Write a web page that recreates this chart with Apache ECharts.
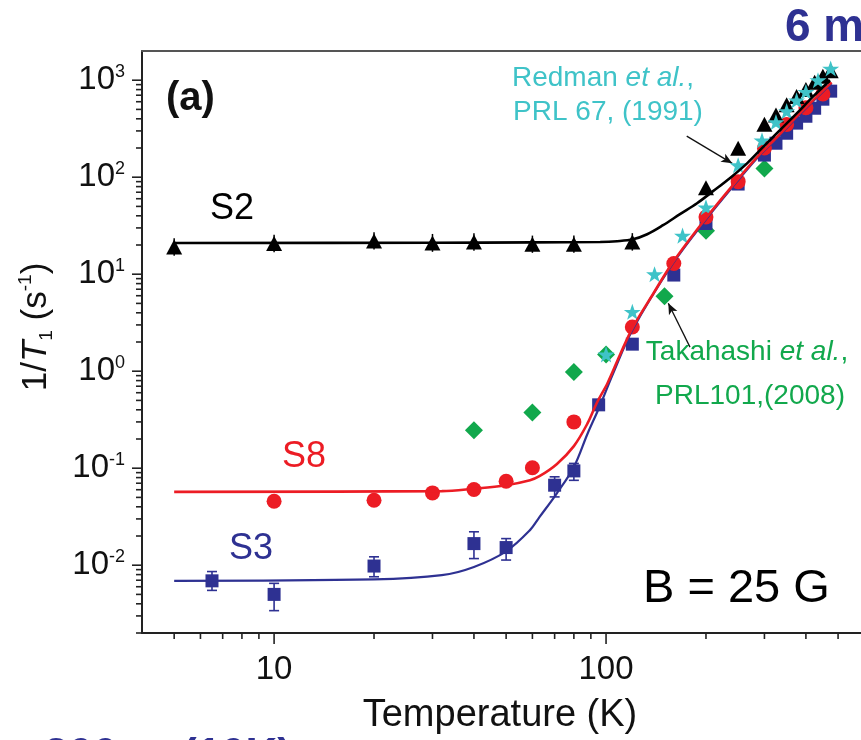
<!DOCTYPE html>
<html>
<head>
<meta charset="utf-8">
<script src="https://cdn.jsdelivr.net/npm/echarts@6/dist/echarts.min.js"></script>
<style>
  html, body { margin: 0; padding: 0; background: #ffffff; }
  #chart { width: 861px; height: 740px; }
</style>
</head>
<body>
<div id="chart"></div>
<script>
// ---- Measured relaxation rates 1/T1 (s^-1) versus temperature (K) ----
const s2Temp = [5, 10, 20, 30, 40, 60, 80, 120, 200, 250, 300, 325, 350, 375, 400, 425, 450, 475];
const s2Rate = [19.1, 20.7, 22, 21, 21.5, 20.4, 20.4, 21.5, 78, 199, 352, 437, 560, 680, 800, 950, 1100, 1250];
const s2ErrTemp = [5, 10, 20, 30, 40, 60, 80, 120];
const s2ErrLow  = [15.5, 16.8, 18, 17, 17.5, 16.6, 16.6, 17.5];
const s2ErrHigh = [23.5, 25.5, 27, 26, 26.5, 25, 25, 26.5];

const s8Temp = [10, 20, 30, 40, 50, 60, 80, 120, 160, 200, 250, 300, 350, 400, 450];
const s8Rate = [0.0457, 0.0468, 0.0556, 0.0603, 0.0734, 0.101, 0.30, 2.86, 12.9, 38.9, 90, 200, 350, 520, 720];

const s3Temp = [6.5, 10, 20, 40, 50, 70, 80, 95, 120, 160, 200, 250, 300, 325, 350, 375, 400, 425, 450, 475];
const s3Rate = [0.0069, 0.0050, 0.0098, 0.0167, 0.0152, 0.0668, 0.0938, 0.45, 1.90, 9.8, 33.3, 85, 169, 224, 284, 361, 425, 514, 637, 771];
const s3ErrTemp = [6.5, 10, 20, 40, 50, 70, 80];
const s3ErrLow  = [0.0055, 0.0034, 0.0076, 0.0117, 0.0113, 0.0506, 0.075];
const s3ErrHigh = [0.0086, 0.0065, 0.0122, 0.0221, 0.0188, 0.0815, 0.112];

// Takahashi et al., PRL 101 (2008)
const takahashiTemp = [40, 60, 80, 100, 150, 200, 300];
const takahashiRate = [0.246, 0.375, 0.98, 1.49, 5.93, 28, 123];

// Redman et al., PRL 67 (1991)
const redmanTemp = [100, 120, 140, 170, 200, 250, 295, 325, 350, 375, 400, 435, 475];
const redmanRate = [1.49, 4.1, 10, 25, 49, 133, 240, 370, 480, 620, 760, 1000, 1320];

// Fitted curves
const s2FitTemp = [5, 30, 60, 96, 108, 120.5, 133, 148.5, 167, 188, 210, 236, 266, 297, 334, 376, 420, 473];
const s2FitRate = [21, 21.1, 21.3, 21.5, 21.9, 22.9, 25.8, 32.0, 41.6, 53.9, 71.8, 97.7, 139, 204, 305, 457, 676, 1000];

const s8FitTemp = [5, 32, 40, 50, 59, 63, 71, 80, 88, 94, 101, 110, 120, 139, 159, 201, 248, 285, 327, 384, 478];
const s8FitRate = [0.057, 0.058, 0.0615, 0.0668, 0.0752, 0.0827, 0.110, 0.169, 0.291, 0.479, 0.752, 1.46, 2.77, 6.37, 13.3, 38.7, 93, 161, 258, 457, 950];

const s3FitTemp = [5, 20, 32, 40, 50, 59, 63, 71, 80, 88, 95.5, 105, 120, 159, 201, 248, 285, 327, 384, 478];
const s3FitRate = [0.0069, 0.00713, 0.00789, 0.0096, 0.0139, 0.0230, 0.0313, 0.0548, 0.103, 0.228, 0.428, 0.946, 2.65, 12.9, 37.5, 90, 157, 252, 445, 930];

// Axis ranges and labelled decades (the temperature axis runs on past the right edge)
const tempMin = 4, tempMax = 1000;
const rateMin = 0.002, rateMax = 2000;
const xTickLabels = [10, 100];
const yTickExponents = [-2, -1, 0, 1, 2, 3];

// ---- helpers ----
const zip = (a, b) => a.map((v, i) => [v, b[i]]);
const zip3 = (a, b, c) => a.map((v, i) => [v, b[i], c[i]]);

const FONT = "'Liberation Sans', Arial, Helvetica, sans-serif";
const RED = '#ec1c24';
const BLUE = '#2e3192';
const GREEN = '#11a84c';
const CYAN = '#3fc3c8';
const STAR = 'path://M50,0 L61.8,35.1 L98.1,35.1 L68.8,56.7 L79.4,91 L50,70 L20.6,91 L31.2,56.7 L1.9,35.1 L38.2,35.1 Z';

// tick marks on the log axes (majors at decades, minors at 2..9)
const xTicks = [];
for (let d = 0; d <= 2; d++) {
  for (let m = 1; m <= 9; m++) {
    const v = m * Math.pow(10, d);
    if (v > tempMin && v < tempMax) xTicks.push([v, rateMin, m === 1 ? 11 : 6]);
  }
}
const yTicks = [];
for (let d = -3; d <= 3; d++) {
  for (let m = 1; m <= 9; m++) {
    const v = m * Math.pow(10, d);
    if (v >= rateMin * 0.999 && v < rateMax) yTicks.push([tempMin, v, m === 1 ? 10 : 6]);
  }
}

function renderXTick(params, api) {
  const p = api.coord([api.value(0), rateMin]);
  const len = api.value(2);
  return { type: 'line', shape: { x1: p[0], y1: p[1], x2: p[0], y2: p[1] + len },
           style: { stroke: '#222', lineWidth: 1.6 } };
}
function renderYTick(params, api) {
  const p = api.coord([tempMin, api.value(1)]);
  const len = api.value(2);
  return { type: 'line', shape: { x1: p[0] - len, y1: p[1], x2: p[0], y2: p[1] },
           style: { stroke: '#222', lineWidth: 1.6 } };
}
function makeErrRenderer(color, cap, width) {
  return function (params, api) {
    const t = api.value(0);
    const a = api.coord([t, api.value(1)]);
    const b = api.coord([t, api.value(2)]);
    const children = [
      { type: 'line', shape: { x1: a[0], y1: a[1], x2: b[0], y2: b[1] }, style: { stroke: color, lineWidth: width } }
    ];
    if (cap > 0) {
      children.push({ type: 'line', shape: { x1: a[0] - cap, y1: a[1], x2: a[0] + cap, y2: a[1] }, style: { stroke: color, lineWidth: width } });
      children.push({ type: 'line', shape: { x1: b[0] - cap, y1: b[1], x2: b[0] + cap, y2: b[1] }, style: { stroke: color, lineWidth: width } });
    }
    return { type: 'group', children };
  };
}

const isDecade = v => Math.abs(Math.log10(v) - Math.round(Math.log10(v))) < 1e-6;

const chart = echarts.init(document.getElementById('chart'), null, { renderer: 'canvas' });

const option = {
  animation: false,
  backgroundColor: '#ffffff',
  textStyle: { fontFamily: FONT },
  grid: { left: 142, top: 51, width: 796, bottom: 107, show: false, containLabel: false, outerBoundsMode: 'none' },
  xAxis: [{
    type: 'log', logBase: 10, min: tempMin, max: tempMax,
    axisLine: { show: true, lineStyle: { color: '#222', width: 2 } },
    axisTick: { show: false },
    splitLine: { show: false },
    axisLabel: {
      margin: 20, fontSize: 33, color: '#111', fontFamily: FONT,
      formatter: v => (xTickLabels.some(t => Math.abs(t - v) < 1e-6 * t) ? String(Math.round(v)) : '')
    }
  }, {
    // upper frame line
    type: 'log', logBase: 10, min: tempMin, max: tempMax, position: 'top',
    axisLine: { show: true, lineStyle: { color: '#555', width: 2 } },
    axisTick: { show: false }, axisLabel: { show: false }, splitLine: { show: false }
  }],
  yAxis: {
    type: 'log', logBase: 10, min: rateMin, max: rateMax, splitNumber: 6,
    axisLine: { show: true, lineStyle: { color: '#222', width: 2 } },
    axisTick: { show: false },
    splitLine: { show: false },
    axisLabel: {
      margin: 17, color: '#111',
      formatter: v => {
        if (!isDecade(v)) return '';
        const e = Math.round(Math.log10(v));
        if (yTickExponents.indexOf(e) < 0) return '';
        return '{b|10}{s|' + e + '}';
      },
      rich: {
        b: { fontSize: 33, lineHeight: 34, fontFamily: FONT, color: '#111' },
        s: { fontSize: 18, lineHeight: 18, verticalAlign: 'top', fontFamily: FONT, color: '#111' }
      }
    }
  },
  series: [
    { name: 'xticks', type: 'custom', renderItem: renderXTick, data: xTicks, encode: { x: 0, y: 1 }, z: 10, silent: true, clip: false },
    { name: 'yticks', type: 'custom', renderItem: renderYTick, data: yTicks, encode: { x: 0, y: 1 }, z: 10, silent: true, clip: false },

    { name: 'Takahashi', type: 'scatter', data: zip(takahashiTemp, takahashiRate), symbol: 'diamond', symbolSize: 18,
      itemStyle: { color: GREEN, opacity: 1 }, z: 2 },

    { name: 'S3 err', type: 'custom', renderItem: makeErrRenderer(BLUE, 5, 1.6), data: zip3(s3ErrTemp, s3ErrLow, s3ErrHigh),
      encode: { x: 0, y: [1, 2] }, z: 3, silent: true },
    { name: 'S3', type: 'scatter', data: zip(s3Temp, s3Rate), symbol: 'rect', symbolSize: 13,
      itemStyle: { color: BLUE, opacity: 1 }, z: 3 },

    { name: 'S8', type: 'scatter', data: zip(s8Temp, s8Rate), symbol: 'circle', symbolSize: 15,
      itemStyle: { color: RED, opacity: 1 }, z: 4 },

    { name: 'S2 err', type: 'custom', renderItem: makeErrRenderer('#000', 0, 1.5), data: zip3(s2ErrTemp, s2ErrLow, s2ErrHigh),
      encode: { x: 0, y: [1, 2] }, z: 5, silent: true },
    { name: 'S2', type: 'scatter', data: zip(s2Temp, s2Rate), symbol: 'triangle', symbolSize: [16, 15],
      itemStyle: { color: '#000', opacity: 1 }, z: 5 },

    { name: 'Redman', type: 'scatter', data: zip(redmanTemp, redmanRate), symbol: STAR, symbolKeepAspect: true, symbolSize: 17,
      itemStyle: { color: CYAN, opacity: 1 }, z: 6,
      markLine: {
        silent: true, symbol: ['none', 'arrow'], symbolSize: [7, 11],
        lineStyle: { color: '#111', width: 1.3, type: 'solid' },
        label: { show: false },
        data: [
          [{ coord: [175, 265] }, { coord: [240, 139] }],
          [{ coord: [179, 1.77] }, { coord: [154, 5.02] }]
        ]
      }
    },

    { name: 'S3 fit', type: 'line', data: zip(s3FitTemp, s3FitRate), smooth: 0.35, showSymbol: false,
      lineStyle: { color: BLUE, width: 2.2 }, z: 7 },
    { name: 'S8 fit', type: 'line', data: zip(s8FitTemp, s8FitRate), smooth: 0.35, showSymbol: false,
      lineStyle: { color: RED, width: 2.6 }, z: 8 },
    { name: 'S2 fit', type: 'line', data: zip(s2FitTemp, s2FitRate), smooth: 0.35, showSymbol: false,
      lineStyle: { color: '#000', width: 2.6 }, z: 9 }
  ],
  graphic: [
    { type: 'text', x: 166, y: 99, style: { text: '(a)', font: 'bold 40px ' + FONT, fill: '#111', align: 'left', verticalAlign: 'middle' } },
    { type: 'text', x: 210, y: 209, style: { text: 'S2', font: '36px ' + FONT, fill: '#000', align: 'left', verticalAlign: 'middle' } },
    { type: 'text', x: 282, y: 457, style: { text: 'S8', font: '36px ' + FONT, fill: RED, align: 'left', verticalAlign: 'middle' } },
    { type: 'text', x: 229, y: 549, style: { text: 'S3', font: '36px ' + FONT, fill: BLUE, align: 'left', verticalAlign: 'middle' } },
    { type: 'text', x: 643, y: 589, style: { text: 'B = 25 G', font: '47px ' + FONT, fill: '#000', align: 'left', verticalAlign: 'middle' } },
    { type: 'text', x: 603, y: 78, style: {
        text: '{a|Redman }{i|et al.}{a|,}', align: 'center', verticalAlign: 'middle',
        rich: { a: { fontSize: 28, fontFamily: FONT, fill: CYAN, color: CYAN }, i: { fontSize: 28, fontFamily: FONT, fontStyle: 'italic', fill: CYAN, color: CYAN } } } },
    { type: 'text', x: 608, y: 112, style: { text: 'PRL 67, (1991)', font: '28px ' + FONT, fill: CYAN, align: 'center', verticalAlign: 'middle' } },
    { type: 'text', x: 747, y: 352, style: {
        text: '{a|Takahashi }{i|et al.}{a|,}', align: 'center', verticalAlign: 'middle',
        rich: { a: { fontSize: 28, fontFamily: FONT, fill: GREEN, color: GREEN }, i: { fontSize: 28, fontFamily: FONT, fontStyle: 'italic', fill: GREEN, color: GREEN } } } },
    { type: 'text', x: 750, y: 396, style: { text: 'PRL101,(2008)', font: '28px ' + FONT, fill: GREEN, align: 'center', verticalAlign: 'middle' } },
    { type: 'text', x: 500, y: 716, style: { text: 'Temperature (K)', font: '38px ' + FONT, fill: '#111', align: 'center', verticalAlign: 'middle' } },
    { type: 'text', x: 36, y: 327, rotation: Math.PI / 2, style: {
        text: '{a|1/}{i|T}{sub|1}{a| (s}{sup|-1}{a|)}', align: 'center', verticalAlign: 'middle',
        rich: {
          a: { fontSize: 35, lineHeight: 40, fontFamily: FONT, fill: '#111' },
          i: { fontSize: 35, lineHeight: 40, fontFamily: FONT, fontStyle: 'italic', fill: '#111' },
          sub: { fontSize: 19, lineHeight: 19, verticalAlign: 'bottom', fontFamily: FONT, fill: '#111' },
          sup: { fontSize: 19, lineHeight: 19, verticalAlign: 'top', fontFamily: FONT, fill: '#111' }
        } } },
    { type: 'text', x: 785, y: 28, style: { text: '6 ms', font: 'bold 46px ' + FONT, fill: BLUE, align: 'left', verticalAlign: 'middle' } },
    { type: 'text', x: 44, y: 757, style: { text: '300 s', font: 'bold 44px ' + FONT, fill: BLUE, align: 'left', verticalAlign: 'middle' } },
    { type: 'text', x: 182, y: 757, style: { text: '(10K)', font: 'bold 44px ' + FONT, fill: BLUE, align: 'left', verticalAlign: 'middle' } }
  ]
};

chart.setOption(option);
</script>
</body>
</html>
